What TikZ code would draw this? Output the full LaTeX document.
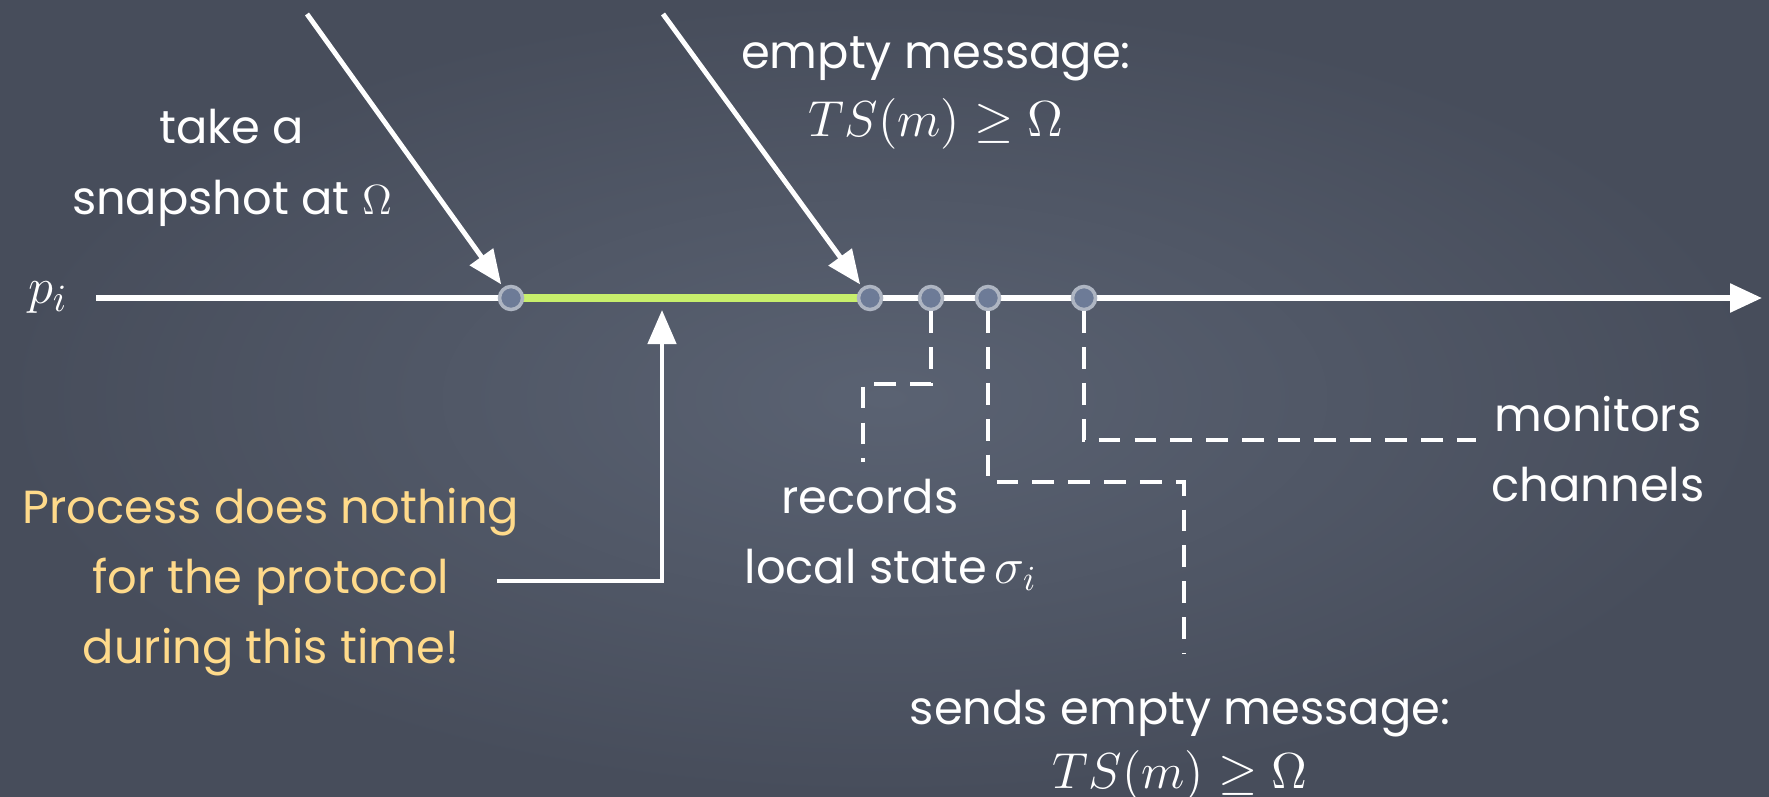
\documentclass[tikz,border=0pt]{standalone}
\usepackage{fontspec}
\setmainfont{Poppins}
\usetikzlibrary{arrows.meta}
\definecolor{board}{HTML}{474D5B}
\definecolor{boardlight}{HTML}{5A6272}
\definecolor{chalkyellow}{HTML}{FFDA8A}
\definecolor{chalkgreen}{HTML}{C8EF6C}
\definecolor{dotfill}{HTML}{6D7B97}
\definecolor{dotring}{HTML}{AEB5C2}
\tikzset{
  lbl/.style={text=white, font=\fontsize{13.2}{20}\selectfont, align=center, inner sep=0pt},
  ylbl/.style={lbl, text=chalkyellow},
  mth/.style={text=white, font=\fontsize{14}{20}\selectfont, inner sep=0pt},
  evt/.style={circle, minimum size=2.3mm, inner sep=0pt, fill=dotfill, draw=dotring, line width=1pt},
  chalkarrow/.style={white, line width=1.4pt, -{Triangle[length=3.4mm,width=2.8mm]}},
  timeline/.style={white, line width=1.6pt, -{Triangle[length=3.2mm,width=2.8mm]}},
  chalkdash/.style={white, line width=1.2pt, dash pattern=on 6.2pt off 4pt},
}
\begin{document}
\begin{tikzpicture}[x=0.1mm,y=-0.1mm]
\shade[inner color=boardlight, outer color=board] (0,0) rectangle (1769,796);
\useasboundingbox (0,0) rectangle (1769,796);
% timeline
\coordinate (tstart) at (96,298);
\coordinate (tend) at (1762,298);
\node[mth, font=\fontsize{15}{20}\selectfont] (p) at (48,298) {$p_i$};
\draw[timeline] (tstart) -- (tend);
\draw[chalkgreen, line width=2.4pt] (511,298) -- (870,298);
% events
\node[evt] (c1) at (511,298) {};
\node[evt] (c2) at (870,298) {};
\node[evt] (c3) at (931,298) {};
\node[evt] (c4) at (988,298) {};
\node[evt] (c5) at (1084,298) {};
% top arrows
\coordinate (a1) at (307,14);
\coordinate (a2) at (663,14);
\draw[chalkarrow, shorten >=1pt] (a1) -- (c1);
\draw[chalkarrow, shorten >=1pt] (a2) -- (c2);
\node[lbl] (take) at (232,168) {take a\\snapshot at $\Omega$};
\node[lbl] (empty) at (936,59) {empty message:};
\node[mth] (ts1) at (936,124) {$TS(m)\geq\Omega$};
% yellow note
\node[ylbl] (note) at (271,582) {Process does nothing\\for the protocol\\during this time!};
\coordinate (n1) at (497,581);
\coordinate (n2) at (662,581);
\coordinate (n3) at (662,310);
\draw[chalkarrow, line width=1.3pt] (n1) -- (n2) -- (n3);
% dashed connectors
\coordinate (r1) at (931,384);
\coordinate (r2) at (863,384);
\coordinate (r3) at (863,462);
\draw[chalkdash] (c3.south) -- (r1) -- (r2) -- (r3);
\node[lbl] (rec) at (870,497) {records};
\node[lbl, anchor=west] (loc) at (744,570) {local state\,{\fontsize{14}{20}\selectfont$\sigma_i$}};
\coordinate (s1) at (988,482);
\coordinate (s2) at (1184,482);
\coordinate (s3) at (1184,654);
\draw[chalkdash] (c4.south) -- (s1) -- (s2) -- (s3);
\node[lbl] (send) at (1180,714) {sends empty message:};
\node[mth] (ts2) at (1180,776) {$TS(m)\geq\Omega$};
\coordinate (m1) at (1084,440);
\coordinate (m2) at (1476,440);
\draw[chalkdash] (c5.south) -- (m1) -- (m2);
\node[lbl] (mon) at (1598,449) {monitors\\channels};
\end{tikzpicture}
\end{document}
